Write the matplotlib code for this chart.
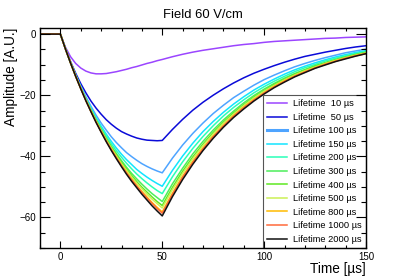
import matplotlib
matplotlib.use("Agg")
import matplotlib.pyplot as plt
from matplotlib.ticker import MultipleLocator

plt.rcParams['font.family'] = ['Liberation Sans', 'DejaVu Sans']

# -----------------------------
# Data (amplitude in A.U., time in us)
# -----------------------------
time_us = [-10, 0, 2.5, 5, 7.5, 10, 12.5, 15, 17.5, 20, 22.5, 25, 27.5, 30, 32.5,
           35, 37.5, 40, 42.5, 45, 47.5, 50, 55, 60, 65, 70, 75, 80, 85, 90, 95,
           100, 105, 110, 115, 120, 125, 130, 135, 140, 145, 150]

lifetimes = [10, 50, 100, 150, 200, 300, 400, 500, 800, 1000, 2000]

amp_10 = [0, 0.0, -4.3, -7.4, -9.6, -11.1, -12.1, -12.7, -13.0, -13.0, -12.9, -12.6,
          -12.3, -11.9, -11.5, -11.0, -10.6, -10.1, -9.6, -9.2, -8.7, -8.3, -7.4,
          -6.6, -5.9, -5.3, -4.8, -4.3, -3.8, -3.4, -3.1, -2.7, -2.4, -2.2, -2.0,
          -1.8, -1.6, -1.4, -1.3, -1.1, -1.0, -0.9]
amp_50 = [0, 0.0, -4.7, -9.0, -12.8, -16.2, -19.2, -21.9, -24.2, -26.2, -28.0, -29.5,
          -30.8, -31.9, -32.7, -33.4, -34.0, -34.4, -34.7, -34.8, -34.9, -34.8, -31.2,
          -27.9, -24.9, -22.3, -20.0, -17.9, -16.0, -14.3, -12.8, -11.5, -10.3, -9.2,
          -8.2, -7.3, -6.6, -5.9, -5.3, -4.7, -4.2, -3.8]
amp_100 = [0, 0.0, -4.8, -9.2, -13.3, -17.0, -20.5, -23.6, -26.5, -29.1, -31.4, -33.6,
           -35.5, -37.2, -38.8, -40.1, -41.3, -42.4, -43.3, -44.1, -44.8, -45.4, -40.6,
           -36.3, -32.5, -29.1, -26.0, -23.3, -20.8, -18.7, -16.7, -14.9, -13.4, -12.0,
           -10.7, -9.6, -8.6, -7.7, -6.9, -6.1, -5.5, -4.9]
amp_150 = [0, 0.0, -4.8, -9.3, -13.5, -17.3, -20.9, -24.2, -27.3, -30.1, -32.7, -35.1,
           -37.3, -39.3, -41.1, -42.7, -44.3, -45.6, -46.8, -47.9, -48.9, -49.8, -44.6,
           -39.9, -35.7, -31.9, -28.6, -25.6, -22.9, -20.5, -18.3, -16.4, -14.7, -13.1,
           -11.7, -10.5, -9.4, -8.4, -7.5, -6.7, -6.0, -5.4]
amp_200 = [0, 0.0, -4.8, -9.3, -13.6, -17.5, -21.1, -24.5, -27.7, -30.6, -33.3, -35.9,
           -38.2, -40.3, -42.3, -44.1, -45.8, -47.3, -48.7, -50.0, -51.2, -52.2, -46.7,
           -41.8, -37.4, -33.5, -30.0, -26.8, -24.0, -21.5, -19.2, -17.2, -15.4, -13.8,
           -12.3, -11.0, -9.9, -8.8, -7.9, -7.1, -6.3, -5.7]
amp_300 = [0, 0.0, -4.8, -9.4, -13.6, -17.6, -21.4, -24.9, -28.1, -31.2, -34.0, -36.7,
           -39.1, -41.4, -43.6, -45.6, -47.4, -49.1, -50.7, -52.2, -53.5, -54.8, -49.0,
           -43.9, -39.2, -35.1, -31.4, -28.1, -25.2, -22.5, -20.1, -18.0, -16.1, -14.4,
           -12.9, -11.6, -10.3, -9.3, -8.3, -7.4, -6.6, -5.9]
amp_400 = [0, 0.0, -4.8, -9.4, -13.7, -17.7, -21.5, -25.0, -28.3, -31.4, -34.4, -37.1,
           -39.6, -42.0, -44.2, -46.3, -48.3, -50.1, -51.7, -53.3, -54.8, -56.1, -50.2,
           -44.9, -40.2, -36.0, -32.2, -28.8, -25.8, -23.1, -20.6, -18.5, -16.5, -14.8,
           -13.2, -11.8, -10.6, -9.5, -8.5, -7.6, -6.8, -6.1]
amp_500 = [0, 0.0, -4.9, -9.4, -13.7, -17.7, -21.5, -25.1, -28.5, -31.6, -34.6, -37.3,
           -39.9, -42.4, -44.6, -46.8, -48.8, -50.6, -52.4, -54.0, -55.5, -56.9, -50.9,
           -45.6, -40.8, -36.5, -32.7, -29.2, -26.2, -23.4, -20.9, -18.7, -16.8, -15.0,
           -13.4, -12.0, -10.8, -9.6, -8.6, -7.7, -6.9, -6.2]
amp_800 = [0, 0.0, -4.9, -9.4, -13.8, -17.8, -21.7, -25.3, -28.7, -31.9, -34.9, -37.7,
           -40.4, -42.9, -45.3, -47.5, -49.6, -51.5, -53.3, -55.1, -56.7, -58.2, -52.1,
           -46.6, -41.7, -37.3, -33.4, -29.9, -26.7, -23.9, -21.4, -19.2, -17.1, -15.3,
           -13.7, -12.3, -11.0, -9.8, -8.8, -7.9, -7.0, -6.3]
amp_1000 = [0, 0.0, -4.9, -9.4, -13.8, -17.8, -21.7, -25.3, -28.7, -31.9, -35.0, -37.8,
            -40.5, -43.1, -45.5, -47.7, -49.8, -51.8, -53.7, -55.4, -57.1, -58.6, -52.5,
            -46.9, -42.0, -37.6, -33.6, -30.1, -26.9, -24.1, -21.6, -19.3, -17.3, -15.5,
            -13.8, -12.4, -11.1, -9.9, -8.9, -7.9, -7.1, -6.4]
amp_2000 = [0, 0.0, -4.9, -9.5, -13.8, -17.9, -21.8, -25.4, -28.9, -32.1, -35.2, -38.1,
            -40.8, -43.4, -45.9, -48.2, -50.3, -52.4, -54.3, -56.2, -57.9, -59.5, -53.2,
            -47.6, -42.6, -38.1, -34.1, -30.5, -27.3, -24.5, -21.9, -19.6, -17.5, -15.7,
            -14.0, -12.6, -11.2, -10.1, -9.0, -8.1, -7.2, -6.4]

amplitudes = [amp_10, amp_50, amp_100, amp_150, amp_200, amp_300, amp_400,
              amp_500, amp_800, amp_1000, amp_2000]

colors = ['#9b45ff', '#0a0ad8', '#4ea4ff', '#12e4ff', '#2affb8', '#4cee5a',
          '#5ee822', '#ccf055', '#ffbb00', '#ff6a3a', '#111111']

# -----------------------------
# Figure
# -----------------------------
fig = plt.figure(figsize=(4.07, 2.77), dpi=100)
ax = fig.add_axes([40 / 407, 29 / 277, 326 / 407, 220 / 277])

for tau, amp, c in zip(lifetimes, amplitudes, colors):
    label = f'Lifetime  {tau} \u00b5s' if tau < 100 else f'Lifetime {tau} \u00b5s'
    ax.plot(time_us, amp, color=c, lw=1.1, label=label, zorder=1)

ax.set_xlim(-10, 150)
ax.set_ylim(-70, 2)

ax.xaxis.set_major_locator(MultipleLocator(50))
ax.xaxis.set_minor_locator(MultipleLocator(10))
ax.yaxis.set_major_locator(MultipleLocator(20))
ax.yaxis.set_minor_locator(MultipleLocator(5))

ax.tick_params(which='both', direction='in', top=True, right=True,
               labelsize=7, width=0.8, color='black')
ax.tick_params(axis='x', which='major', length=4.8, pad=3)
ax.tick_params(axis='x', which='minor', length=2.4)
ax.tick_params(axis='y', which='major', length=7.2, pad=3)
ax.tick_params(axis='y', which='minor', length=3.6)
for s in ax.spines.values():
    s.set_linewidth(1.0)

ax.set_title('Field 60 V/cm', fontsize=9.4, pad=7)
ax.set_xlabel('Time [\u00b5s]', fontsize=9.8, loc='right', labelpad=0)
ax.set_ylabel('Amplitude [A.U.]', fontsize=9.8, loc='top', labelpad=1)

leg = ax.legend(loc='lower right', bbox_to_anchor=(1.0, 0.0), borderaxespad=0.0,
                fontsize=6.7, labelspacing=0.49, handlelength=2.2,
                handletextpad=0.6, borderpad=0.45, fancybox=False,
                framealpha=1.0, edgecolor='#555555')
leg.get_frame().set_linewidth(0.8)
leg.set_zorder(1.4)
leg.legend_handles[2].set_linewidth(2.2)

fig.savefig('out.png', dpi=100)
